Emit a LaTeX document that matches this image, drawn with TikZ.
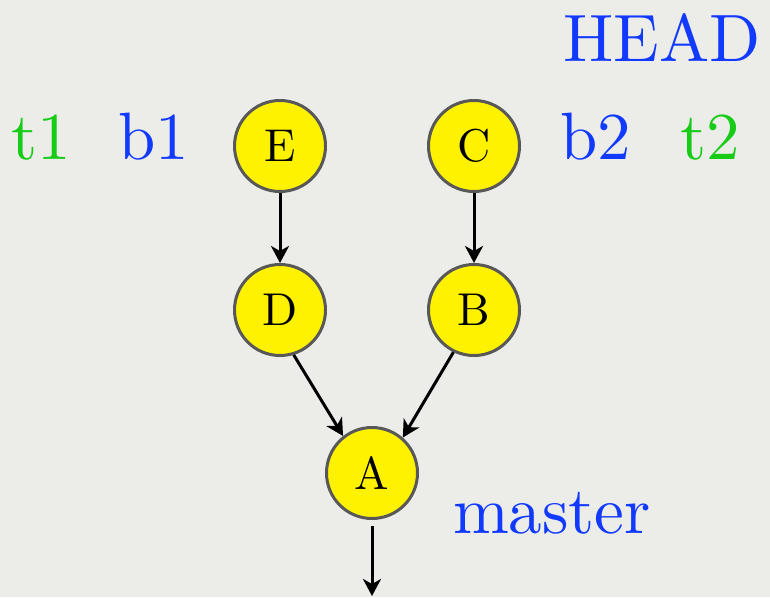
\documentclass[tikz,border=0pt]{standalone}
\usepackage{fontspec}
\setmainfont{lmroman10-regular.otf}
\usepackage{tikz}
\usetikzlibrary{arrows.meta}
\definecolor{bgcol}{RGB}{236,236,233}
\definecolor{refblue}{RGB}{18,58,255}
\definecolor{taggreen}{RGB}{22,204,22}
\definecolor{rimgray}{RGB}{88,88,88}

\begin{document}
\begin{tikzpicture}[x=1pt,y=-1pt,
		commit/.style={circle,draw=rimgray,fill=yellow,line width=3pt,minimum size=91pt,inner sep=0pt,font=\fontsize{46}{50}\selectfont},
		ref/.style={anchor=base,inner sep=0pt,font=\fontsize{67}{80}\selectfont},
		edge/.style={-{Stealth[length=17pt,width=18pt,inset=5pt]},line width=3pt}]
		\fill[bgcol] (0,0) rectangle (770,597);
		\useasboundingbox (0,0) rectangle (770,597);
		% commits
		\node[commit](E) at (280,146){E};
		\node[commit](C) at (474,146){C};
		\node[commit](D) at (280,310){D};
		\node[commit](B) at (474,310){B};
		\node[commit](A) at (372,473){A};
		\coordinate (down) at (372,596);
		% parents
		\draw[edge] (E) -- (D);
		\draw[edge] (C) -- (B);
		\draw[edge] (D.-73) -- (A.128);
		\draw[edge] (B.-116) -- (A.49);
		\draw[edge,shorten <=6pt] (A) -- (down);
		% refs
		\node[ref,text=taggreen](t1) at (41,159){t1};
		\node[ref,text=refblue](b1) at (154,159){b1};
		\node[ref,text=refblue](b2) at (596,159){b2};
		\node[ref,text=taggreen](t2) at (710,159){t2};
		\node[ref,text=refblue](head) at (662,61){HEAD};
		\node[ref,text=refblue](master) at (552,533){master};
\end{tikzpicture}
\end{document}
